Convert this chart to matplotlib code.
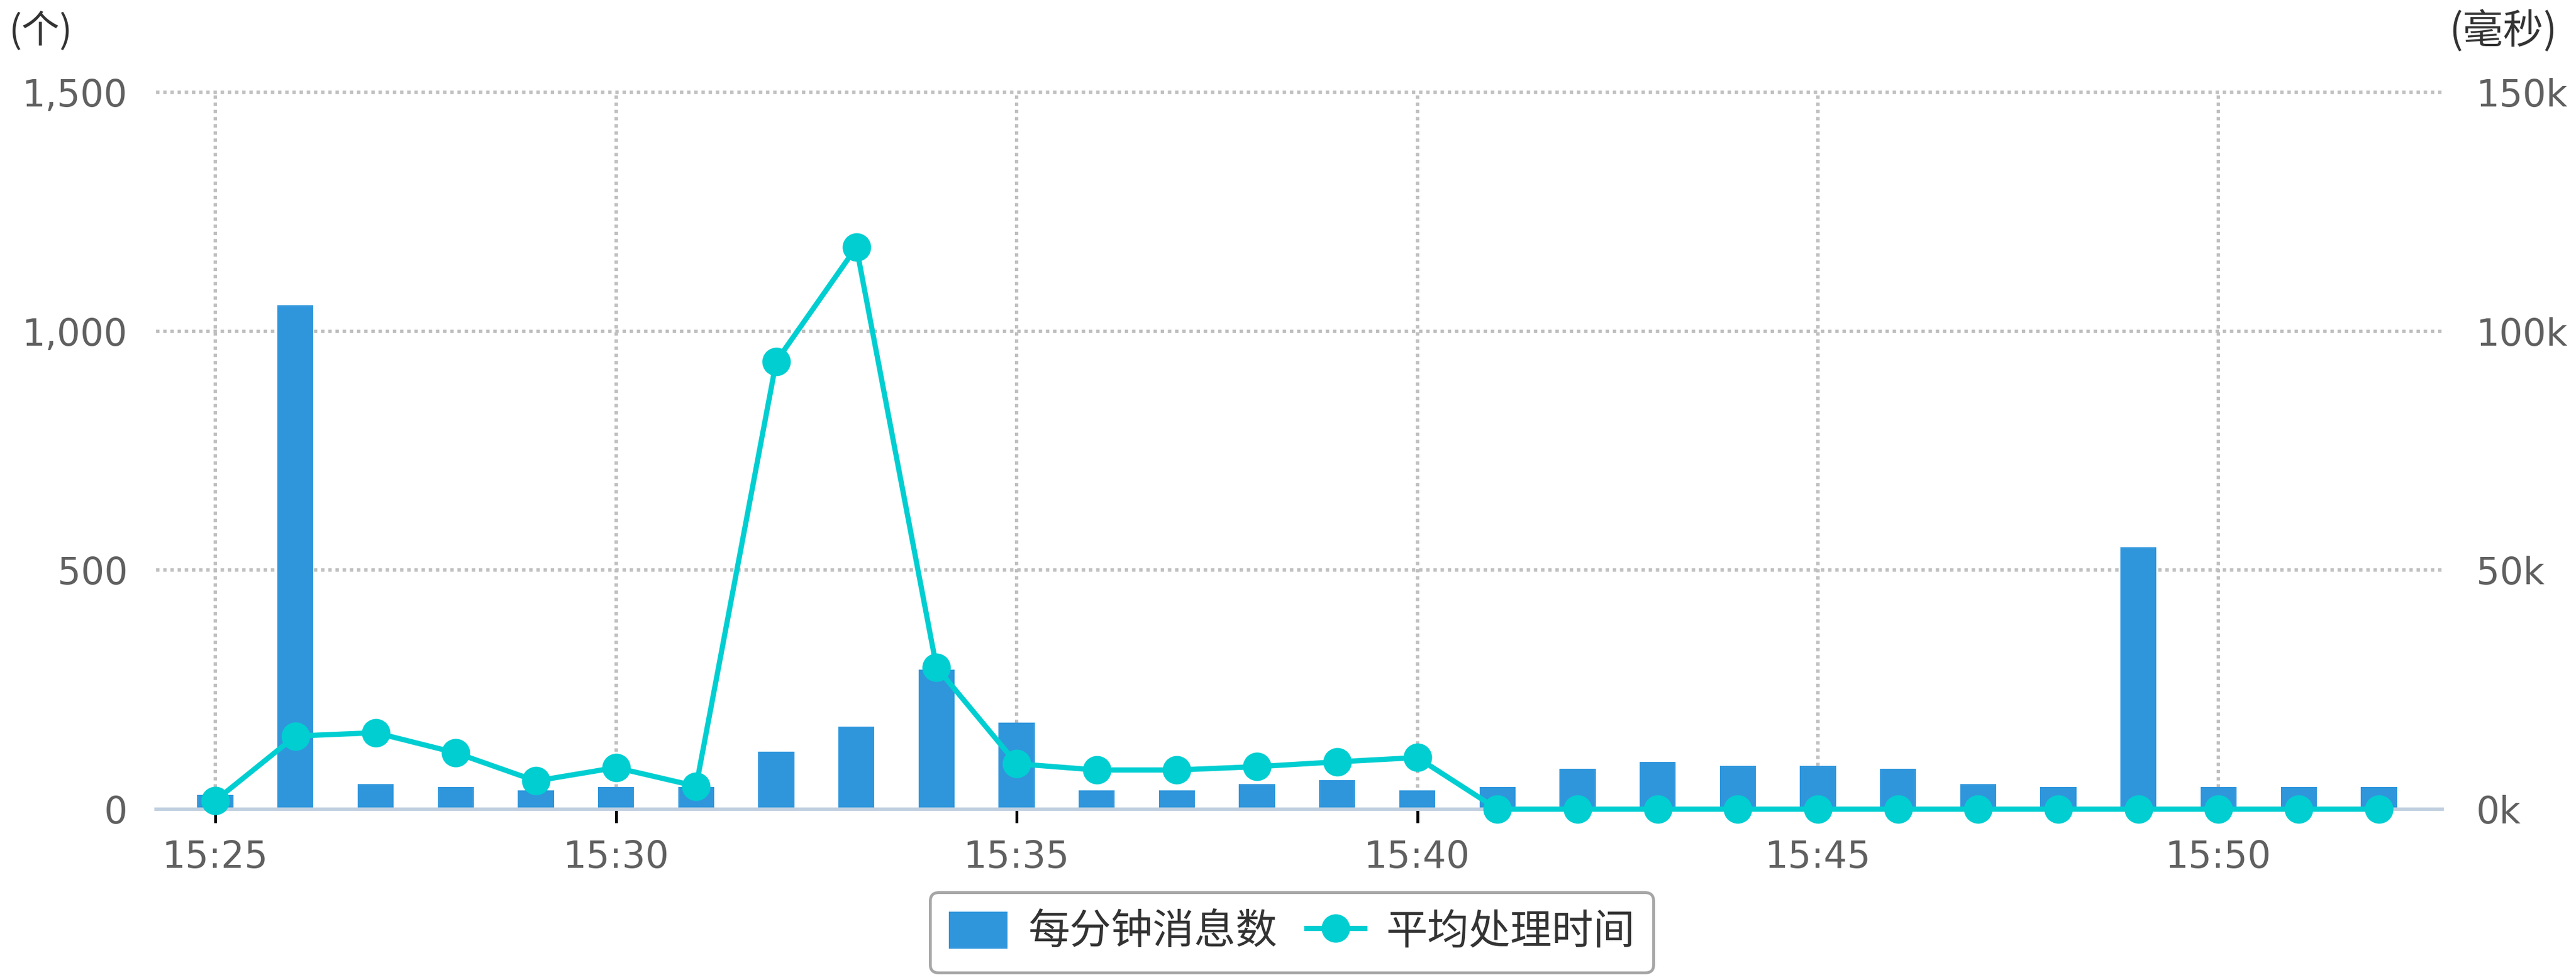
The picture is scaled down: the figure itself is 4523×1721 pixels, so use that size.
# 1.导包
import numpy as np
import matplotlib
matplotlib.use('Agg')
import matplotlib.pyplot as plt
from matplotlib.ticker import FuncFormatter

# 中文字体：先用 DejaVu，缺字时回落到 Noto Sans CJK SC
plt.rcParams['font.family'] = ['DejaVu Sans', 'Noto Sans CJK SC']

# 2.数据（从图上读出来的）
times = ['15:25', '15:26', '15:27', '15:28', '15:29', '15:30', '15:31',
         '15:32', '15:33', '15:34', '15:35', '15:36', '15:37', '15:38',
         '15:39', '15:40', '15:41', '15:42', '15:43', '15:44', '15:45',
         '15:46', '15:47', '15:48', '15:49', '15:50', '15:51', '15:52']
# 每分钟消息数（个）
msg_count = [30, 1055, 53, 46, 39, 46, 46,
             120, 173, 292, 181, 39, 39, 53,
             61, 39, 46, 84, 99, 90, 90,
             84, 53, 46, 548, 46, 46, 46]
# 平均处理时间（毫秒）
avg_ms = [1800, 15300, 16000, 11800, 5900, 8700, 4800,
          93700, 117600, 29700, 9500, 8200, 8200, 8900,
          9900, 10800, 0, 0, 0, 0, 0,
          0, 0, 0, 0, 0, 0, 0]

left_ticks = [0, 500, 1000, 1500]
right_ticks = [0, 50000, 100000, 150000]
right_labels = ['0k', '50k', '100k', '150k']

bar_color = '#2f96dc'
line_color = '#00ced1'
label_color = '#606060'

# 3.画布
W, H = 4523, 1721
fig = plt.figure(figsize=(W / 300, H / 300), dpi=300)
ax = fig.add_axes([274 / W, 1 - 1421 / H, (4288 - 274) / W, (1421 - 162) / H])

x = np.arange(len(times))

# 4.柱状图
ax.bar(x, msg_count, width=0.45, color=bar_color, label='每分钟消息数', zorder=2)
ax.set_xlim(-0.74, 27.79)
ax.set_ylim(0, 1500)
ax.set_yticks(left_ticks)
ax.yaxis.set_major_formatter(FuncFormatter(lambda v, p: f'{v:,.0f}'))
ax.set_xticks(x[::5])
ax.set_xticklabels(times[::5])

# 网格：点线
ax.set_axisbelow(True)
ax.grid(True, color='#c0c0c0', linestyle=(0, (1, 1.1)), linewidth=1.44)
for gl in ax.get_ygridlines():
    gl.set_clip_on(False)

for s in ['top', 'left', 'right']:
    ax.spines[s].set_visible(False)
ax.spines['bottom'].set_color('#c0d0e0')
ax.spines['bottom'].set_linewidth(1.44)

ax.tick_params(axis='y', length=0, pad=12, labelsize=15.5, labelcolor=label_color)
ax.tick_params(axis='x', length=5.8, width=1.2, color='black', pad=7,
               labelsize=15.5, labelcolor=label_color)

# 5.折线（右轴）
ax2 = ax.twinx()
ax2.plot(x, avg_ms, color=line_color, linewidth=2.2, marker='o', markersize=12,
         markeredgewidth=0, label='平均处理时间', clip_on=False, zorder=3)
ax2.set_ylim(0, 150000)
ax2.set_yticks(right_ticks)
ax2.set_yticklabels(right_labels)
for s in ['top', 'left', 'right', 'bottom']:
    ax2.spines[s].set_visible(False)
ax2.tick_params(axis='y', length=0, pad=14.4, labelsize=15.5, labelcolor=label_color)

# 6.单位
fig.text(72 / W, 1 - 55 / H, '(个)', ha='center', va='center', fontsize=16,
         color='#333333', family=['Noto Sans CJK SC', 'DejaVu Sans'])
fig.text(4395 / W, 1 - 55 / H, '(毫秒)', ha='center', va='center', fontsize=17,
         color='#333333', family=['Noto Sans CJK SC', 'DejaVu Sans'])

# 7.图例
h1, l1 = ax.get_legend_handles_labels()
h2, l2 = ax2.get_legend_handles_labels()
leg = fig.legend(h1 + h2, l1 + l2, loc='upper center',
                 bbox_to_anchor=(2268 / W, 1 - 1567 / H), ncol=2,
                 prop={'family': ['Noto Sans CJK SC', 'DejaVu Sans'], 'size': 17.5},
                 frameon=True, fancybox=True, edgecolor='#909090',
                 handlelength=1.41, handleheight=1.0, handletextpad=0.5,
                 columnspacing=0.7, borderpad=0.45, borderaxespad=0)
leg.get_frame().set_linewidth(1.2)
for t in leg.get_texts():
    t.set_color('#333333')

fig.savefig('out.png', dpi=300)
